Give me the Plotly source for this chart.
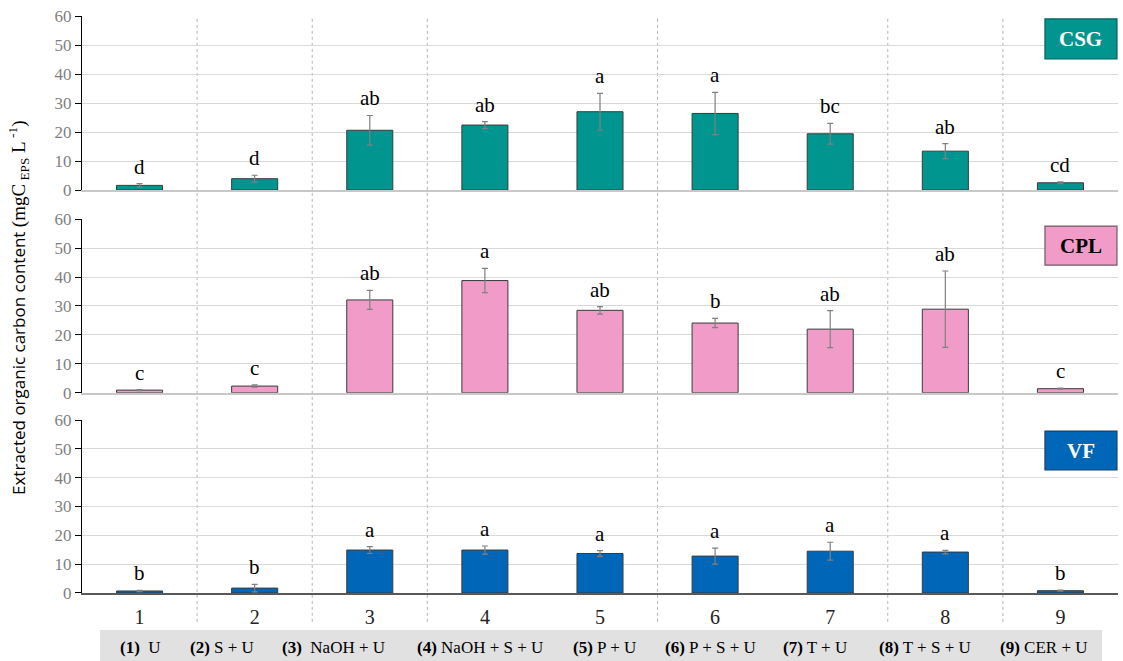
import plotly.graph_objects as go

# Treatments (x positions 1..9)
treatments = [1, 2, 3, 4, 5, 6, 7, 8, 9]
treatment_names = ["<b>(1)</b>  U", "<b>(2)</b> S + U", "<b>(3)</b>  NaOH + U",
                   "<b>(4)</b> NaOH + S + U", "<b>(5)</b> P + U", "<b>(6)</b> P + S + U",
                   "<b>(7)</b> T + U", "<b>(8)</b> T + S + U", "<b>(9)</b> CER + U"]

# CSG sludge
csg_mean = [1.6, 3.9, 20.6, 22.4, 27.0, 26.4, 19.4, 13.4, 2.5]
csg_err = [0.6, 1.2, 5.1, 1.2, 6.3, 7.3, 3.6, 2.6, 0.3]
csg_groups = ["d", "d", "ab", "ab", "a", "a", "bc", "ab", "cd"]

# CPL sludge
cpl_mean = [0.9, 2.3, 32.1, 38.8, 28.5, 24.1, 22.0, 28.9, 1.4]
cpl_err = [0.2, 0.4, 3.3, 4.2, 1.3, 1.6, 6.4, 13.2, 0.2]
cpl_groups = ["c", "c", "ab", "a", "ab", "b", "ab", "ab", "c"]

# VF sludge
vf_mean = [0.7, 1.7, 14.9, 14.9, 13.7, 12.8, 14.5, 14.2, 0.8]
vf_err = [0.2, 1.3, 1.2, 1.4, 1.0, 2.8, 3.1, 0.6, 0.2]
vf_groups = ["b", "b", "a", "a", "a", "a", "a", "a", "b"]

y_ticks = [0, 10, 20, 30, 40, 50, 60]

SERIF = "Times New Roman, Liberation Serif, serif"
SANS = "Open Sans, Noto Sans, sans-serif"

panels = [
    dict(name="CSG", mean=csg_mean, err=csg_err, groups=csg_groups,
         fill="#00968F", edge="#00615C", text_color="white",
         domain=[0.6984, 1.0], box=(0.983, 0.753)),
    dict(name="CPL", mean=cpl_mean, err=cpl_err, groups=cpl_groups,
         fill="#F09BC8", edge="#6E5A66", text_color="black",
         domain=[0.3471, 0.6477], box=(0.961, 0.736)),
    dict(name="VF", mean=vf_mean, err=vf_err, groups=vf_groups,
         fill="#0067B8", edge="#1F3F66", text_color="white",
         domain=[0.0, 0.2998], box=(0.936, 0.711)),
]

BOX_X0, BOX_X1 = 0.9295, 0.999

fig = go.Figure()
annotations = []
shapes = []

for i, p in enumerate(panels, start=1):
    xa = "x" if i == 1 else f"x{i}"
    ya = "y" if i == 1 else f"y{i}"
    fig.add_trace(go.Bar(
        x=treatments, y=p["mean"], xaxis=xa, yaxis=ya,
        width=0.4,
        marker=dict(color=p["fill"], line=dict(color="#3a3a3a", width=1)),
        error_y=dict(type="data", array=p["err"], visible=True,
                     color="#808080", thickness=1.2, width=3),
        showlegend=False, hoverinfo="skip",
    ))
    # significance letters above error bars
    for x, m, e, g in zip(treatments, p["mean"], p["err"], p["groups"]):
        annotations.append(dict(
            x=x, y=m + e, xref=xa, yref=ya, text=g, showarrow=False,
            xanchor="center", yanchor="bottom", yshift=3,
            font=dict(family=SERIF, size=21, color="black"),
        ))
    # panel label box (positions in paper space of this subplot)
    d0, d1 = p["domain"]
    by0 = d0 + p["box"][1] * (d1 - d0)
    by1 = d0 + p["box"][0] * (d1 - d0)
    shapes.append(dict(
        type="rect", xref="paper", yref="paper",
        x0=BOX_X0, x1=BOX_X1, y0=by0, y1=by1,
        fillcolor=p["fill"], line=dict(color=p["edge"], width=1.2), layer="above",
    ))
    annotations.append(dict(
        x=(BOX_X0 + BOX_X1) / 2, y=(by0 + by1) / 2,
        xref="paper", yref="paper", xanchor="center", yanchor="middle",
        text=f"<b>{p['name']}</b>", showarrow=False,
        font=dict(family=SERIF, size=21, color=p["text_color"]),
    ))

    axis_key = "xaxis" if i == 1 else f"xaxis{i}"
    yaxis_key = "yaxis" if i == 1 else f"yaxis{i}"
    bottom = i == 3
    xaxis_cfg = dict(
        domain=[0, 1], anchor=ya, range=[0.5, 9.5],
        showticklabels=bottom, ticks="", showgrid=False, zeroline=False,
        showline=True, linecolor="#595959" if bottom else "#c8c8c8",
        linewidth=1.5 if bottom else 2,
    )
    if bottom:
        xaxis_cfg.update(
            tickmode="array", tickvals=treatments,
            ticktext=[str(t) for t in treatments],
            tickfont=dict(family=SERIF, size=20, color="#222"),
            ticklabelstandoff=5,
        )
    fig.update_layout(**{
        axis_key: xaxis_cfg,
        yaxis_key: dict(
            domain=p["domain"], anchor=xa, range=[0, 60],
            tickmode="array", tickvals=y_ticks,
            showgrid=True, gridcolor="#d9d9d9", gridwidth=1, zeroline=False,
            showline=True, linecolor="black", linewidth=1.3,
            ticks="outside", ticklen=6, tickcolor="black", tickwidth=1.3,
            tickfont=dict(family=SERIF, size=17, color="#7f7f7f"),
        ),
    })

# dotted separators between treatment groups
for xs in [1.5, 2.5, 3.5, 5.5, 7.5, 8.5]:
    shapes.append(dict(
        type="line", xref="x3", yref="paper", x0=xs, x1=xs, y0=-0.05, y1=1.0,
        line=dict(color="#b4b4b4", width=1, dash="dot"), layer="below",
    ))

# grey strip with treatment descriptions
shapes.append(dict(
    type="rect", xref="paper", yref="paper", x0=0.0174, x1=0.9846,
    y0=-0.1179, y1=-0.0641, fillcolor="#e1e1e1", line=dict(width=0), layer="below",
))
strip_x = [0.0560, 0.1351, 0.2423, 0.3842, 0.5039, 0.6062, 0.7075, 0.8137, 0.9286]
for sx, name in zip(strip_x, treatment_names):
    annotations.append(dict(
        x=sx, y=-0.0936, xref="paper", yref="paper", text=name, showarrow=False,
        xanchor="center", yanchor="middle",
        font=dict(family=SERIF, size=17, color="black"),
    ))

# y-axis title
annotations.append(dict(
    x=-0.0608, y=0.494, xref="paper", yref="paper", textangle=-90, showarrow=False,
    xanchor="center", yanchor="middle",
    text=("Extracted organic carbon content "
          f"<span style='font-family:{SERIF};font-size:19px'>(mgC<sub> EPS</sub> L<sup> -1</sup>)</span>"),
    font=dict(family=SANS, size=17, color="black"),
))

fig.update_layout(
    width=1123, height=661,
    margin=dict(l=82, r=5, t=16, b=68),
    paper_bgcolor="white", plot_bgcolor="white",
    bargap=0.6,
    annotations=annotations, shapes=shapes,
)

fig.write_html("out.html")
